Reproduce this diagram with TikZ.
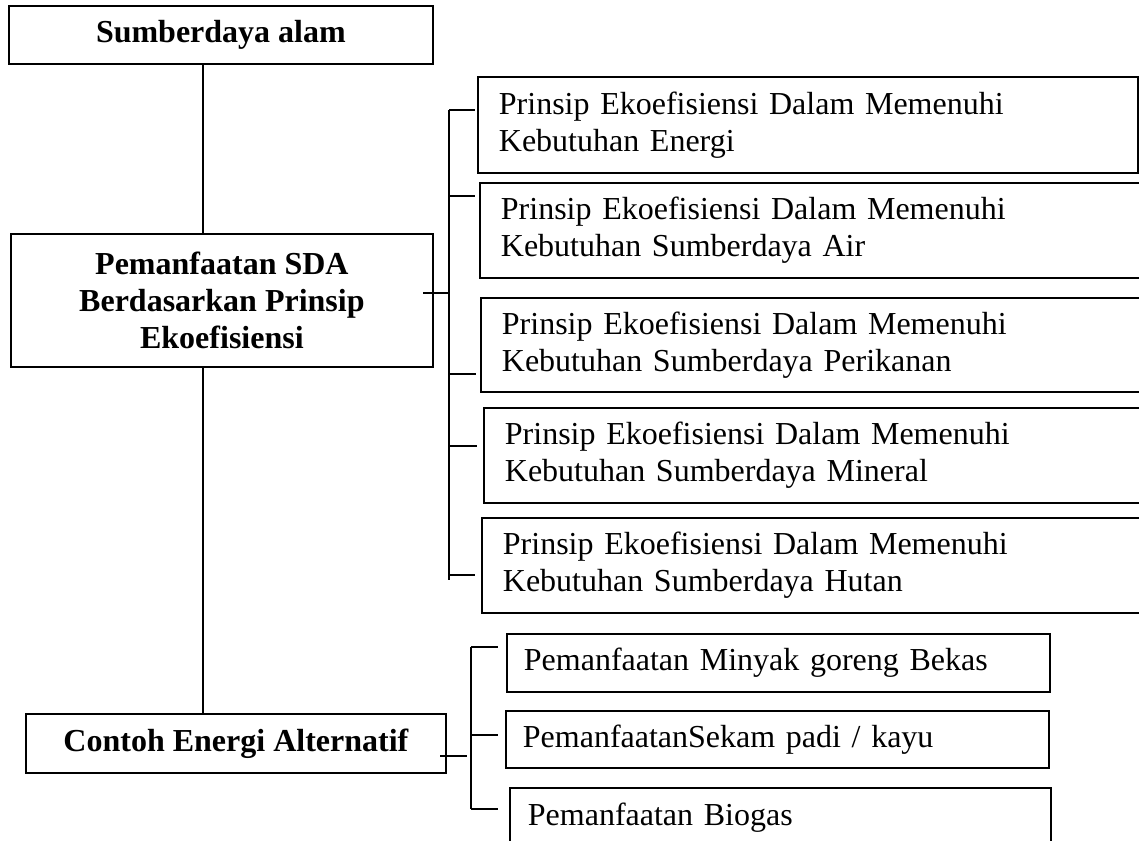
\documentclass[tikz,border=0pt]{standalone}
\usepackage{fontspec}
\setmainfont{Liberation Serif}
\begin{document}
\begin{tikzpicture}[x=1pt,y=-1pt,
  box/.style={draw, line width=1.8pt, rectangle, inner ysep=0pt, anchor=north west},
  boldtxt/.style={font=\fontsize{32}{37}\selectfont\bfseries, align=center, inner xsep=2pt},
  regtxt/.style={font=\fontsize{32}{37}\selectfont, align=left},
  link/.style={line width=1.8pt}]
\useasboundingbox (0,0) rectangle (1139,840);
\fill[white] (0,0) rectangle (1139,840);
\clip (0,0) rectangle (1139,840);

% left column
\node[box, boldtxt, minimum width=424pt, minimum height=58pt] (top) at (8,5) {Sumberdaya alam};
\node[box, boldtxt, minimum width=422pt, minimum height=133pt] (mid) at (10,233) {Pemanfaatan SDA\\Berdasarkan Prinsip\\Ekoefisiensi};
\node[box, boldtxt, minimum width=420pt, minimum height=59pt] (alt) at (25,713) {Contoh Energi Alternatif};

% right column
\node[box, regtxt, inner xsep=21pt, text width=618pt, minimum height=96pt] (r1) at (477,76) {Prinsip Ekoefisiensi Dalam Memenuhi\\Kebutuhan Energi};
\node[box, regtxt, inner xsep=21pt, text width=638pt, minimum height=95pt] (r2) at (479,182) {Prinsip Ekoefisiensi Dalam Memenuhi\\Kebutuhan Sumberdaya Air};
\node[box, regtxt, inner xsep=21pt, text width=638pt, minimum height=94pt] (r3) at (480,297) {Prinsip Ekoefisiensi Dalam Memenuhi\\Kebutuhan Sumberdaya Perikanan};
\node[box, regtxt, inner xsep=21pt, text width=638pt, minimum height=95pt] (r4) at (483,407) {Prinsip Ekoefisiensi Dalam Memenuhi\\Kebutuhan Sumberdaya Mineral};
\node[box, regtxt, inner xsep=21pt, text width=638pt, minimum height=95pt] (r5) at (481,517) {Prinsip Ekoefisiensi Dalam Memenuhi\\Kebutuhan Sumberdaya Hutan};

% bottom right
\node[box, regtxt, inner xsep=17pt, text width=509pt, minimum height=58pt] (bA) at (506,633) {Pemanfaatan Minyak goreng Bekas};
\node[box, regtxt, inner xsep=17pt, text width=509pt, minimum height=57pt] (bB) at (505,710) {PemanfaatanSekam padi / kayu};
\node[box, regtxt, inner xsep=18pt, text width=505pt, minimum height=60pt] (bC) at (509,787) {Pemanfaatan Biogas};

% trunk
\coordinate (trunk) at (203,0);
\draw[link] (top.south -| trunk) -- (mid.north -| trunk);
\draw[link] (mid.south -| trunk) -- (alt.north -| trunk);

% upper bracket
\coordinate (s1) at (423,293);
\coordinate (j0) at (449,110);
\coordinate (j1) at (449,110);
\coordinate (j2) at (449,196);
\coordinate (j3) at (449,374);
\coordinate (j4) at (449,446);
\coordinate (j5) at (449,575);
\coordinate (jend) at (449,580);
\draw[link] (s1) -- (s1 -| j1);
\draw[link] (j0) -- (jend);
\draw[link] (j1) -- ([xshift=-2pt]j1 -| r1.west);
\draw[link] (j2) -- ([xshift=-4pt]j2 -| r2.west);
\draw[link] (j3) -- ([xshift=-4pt]j3 -| r3.west);
\draw[link] (j4) -- ([xshift=-6pt]j4 -| r4.west);
\draw[link] (j5) -- ([xshift=-6pt]j5 -| r5.west);

% lower bracket
\coordinate (s2) at (440,756);
\coordinate (s2end) at (467,756);
\coordinate (k1) at (471,647);
\coordinate (k2) at (471,735);
\coordinate (k3) at (471,809);
\coordinate (kend) at (498,0);
\draw[link] (s2) -- (s2end);
\draw[link] (k1) -- (k3);
\draw[link] (k1) -- (k1 -| kend);
\draw[link] (k2) -- (k2 -| kend);
\draw[link] (k3) -- (k3 -| kend);
\end{tikzpicture}
\end{document}
